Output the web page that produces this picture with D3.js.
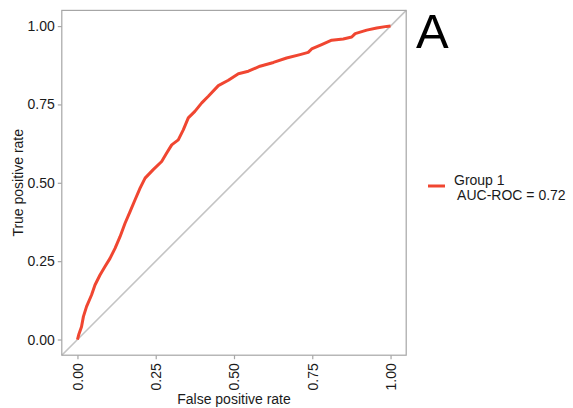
<!DOCTYPE html>
<html><head><meta charset="utf-8">
<script src="https://cdn.jsdelivr.net/npm/d3@7"></script>
<style>body{margin:0;background:#fff}svg{display:block}text{font-family:"Liberation Sans",Arial,sans-serif}</style>
</head><body><svg id="c" width="573" height="408"></svg>
<script>
const fpr = [0,0.004,0.013,0.019,0.029,0.045,0.056,0.072,0.088,0.104,0.120,0.136,0.152,0.168,0.184,0.200,0.216,0.242,0.269,0.285,0.301,0.322,0.338,0.354,0.375,0.397,0.418,0.450,0.482,0.514,0.546,0.583,0.626,0.668,0.711,0.737,0.748,0.780,0.812,0.849,0.876,0.887,0.924,0.956,0.988,1];
const tpr = [0,0.015,0.041,0.073,0.105,0.142,0.174,0.206,0.233,0.259,0.291,0.328,0.371,0.408,0.446,0.483,0.515,0.542,0.568,0.595,0.621,0.637,0.669,0.707,0.728,0.755,0.776,0.810,0.827,0.848,0.856,0.872,0.884,0.898,0.909,0.916,0.927,0.941,0.955,0.959,0.965,0.976,0.987,0.994,0.999,1];
const ticks = [0,0.25,0.5,0.75,1];
const tickLabels = ["0.00","0.25","0.50","0.75","1.00"];
const seriesName = "Group 1";
const aucLabel = " AUC-ROC = 0.72";
const panelLabel = "A";

const svg = d3.select("#c");
const x = d3.scaleLinear().domain([-0.05,1.05]).range([61.8,406.2]);
const y = d3.scaleLinear().domain([-0.05,1.05]).range([355.2,10.4]);

// diagonal
svg.append("line").attr("x1",x(-0.05)).attr("y1",y(-0.05)).attr("x2",x(1.05)).attr("y2",y(1.05))
  .attr("stroke","#c4c4c4").attr("stroke-width",1.6);

// curve
const pts = fpr.map((v,i)=>[v,tpr[i]]);
svg.append("path").datum(pts)
  .attr("d",d3.line().x(d=>x(d[0])).y(d=>y(d[1])).curve(d3.curveLinear))
  .attr("fill","none").attr("stroke","#f04631").attr("stroke-width",3).attr("stroke-linejoin","round");

// border
svg.append("rect").attr("x",x(-0.05)).attr("y",y(1.05)).attr("width",x(1.05)-x(-0.05)).attr("height",y(-0.05)-y(1.05))
  .attr("fill","none").attr("stroke","#a6a6a6").attr("stroke-width",1.2);

// y axis
const ya = svg.append("g").attr("transform",`translate(${x(-0.05)},0)`)
  .call(d3.axisLeft(y).tickValues(ticks).tickFormat((d,i)=>tickLabels[i]).tickSize(4).tickPadding(3));
ya.select(".domain").remove();
ya.selectAll("line").attr("stroke","#a6a6a6").attr("stroke-width",1.2);
ya.selectAll("text").attr("font-size",14).attr("fill","#1a1a1a").attr("font-family","Liberation Sans, Arial, sans-serif");

// x axis
const xa = svg.append("g").attr("transform",`translate(0,${y(-0.05)})`)
  .call(d3.axisBottom(x).tickValues(ticks).tickFormat((d,i)=>tickLabels[i]).tickSize(4).tickPadding(3));
xa.select(".domain").remove();
xa.selectAll("line").attr("stroke","#a6a6a6").attr("stroke-width",1.2);
xa.selectAll("text").attr("font-size",14).attr("fill","#1a1a1a").attr("font-family","Liberation Sans, Arial, sans-serif")
  .attr("transform","rotate(-90)").attr("text-anchor","end").attr("dy","0.35em").attr("x",-8).attr("y",0);

// titles
svg.append("text").attr("x",(x(-0.05)+x(1.05))/2).attr("y",404).attr("text-anchor","middle")
  .attr("font-size",14).attr("fill","#1a1a1a").text("False positive rate");
svg.append("text").attr("transform",`translate(23,${(y(-0.05)+y(1.05))/2}) rotate(-90)`).attr("text-anchor","middle")
  .attr("font-size",14).attr("fill","#1a1a1a").text("True positive rate");

// panel label
svg.append("text").attr("x",416).attr("y",48).attr("font-size",49).attr("fill","#000").text(panelLabel);

// legend
svg.append("line").attr("x1",428).attr("x2",445).attr("y1",186).attr("y2",186).attr("stroke","#f04631").attr("stroke-width",3);
svg.append("text").attr("x",454).attr("y",185).attr("font-size",14).attr("fill","#1a1a1a").text(seriesName);
svg.append("text").attr("x",454).attr("y",200).attr("font-size",14).attr("fill","#1a1a1a").attr("xml:space","preserve").style("white-space","pre").text(aucLabel);
</script></body></html>
